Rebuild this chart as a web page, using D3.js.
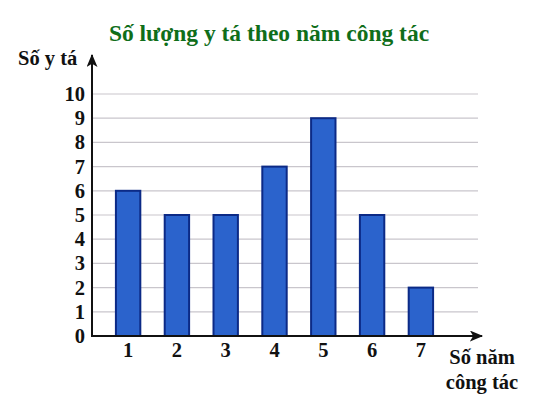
<!DOCTYPE html>
<html>
<head>
<meta charset="utf-8">
<script src="https://cdn.jsdelivr.net/npm/d3@7"></script>
<style>
  body { margin: 0; background: #fff; }
  text { font-family: "Liberation Serif", "DejaVu Serif", serif; }
</style>
</head>
<body>
<script>
// data
let years = ["1", "2", "3", "4", "5", "6", "7"];
let nurses = [6, 5, 5, 7, 9, 5, 2];
let yTicks = [0, 1, 2, 3, 4, 5, 6, 7, 8, 9, 10];

init();

function init() {
  let svg = d3.select("body")
              .append("svg")
              .attr("width", 547)
              .attr("height", 401);

  let x0 = 92, y0 = 336, gridEnd = 478;

  let x = d3.scaleBand()
            .domain(years)
            .range([x0, 457])
            .paddingInner(0.5)
            .paddingOuter(0.49);

  let y = d3.scaleLinear().domain([0, 10]).range([y0, 94]);

  // title
  svg.append("text")
     .attr("x", 269)
     .attr("y", 41)
     .attr("text-anchor", "middle")
     .attr("font-size", 23.5)
     .attr("font-weight", "bold")
     .attr("fill", "#0f6e1a")
     .text("Số lượng y tá theo năm công tác");

  // gridlines
  svg.append("g")
     .selectAll("line")
     .data(yTicks.filter(d => d > 0))
     .enter()
     .append("line")
     .attr("x1", x0)
     .attr("x2", gridEnd)
     .attr("y1", d => y(d))
     .attr("y2", d => y(d))
     .attr("stroke", "#c9c6cc")
     .attr("stroke-width", 1.2);

  // y tick labels
  svg.append("g")
     .selectAll("text")
     .data(yTicks)
     .enter()
     .append("text")
     .attr("x", 85)
     .attr("y", d => y(d) + 7)
     .attr("text-anchor", "end")
     .attr("font-size", 20.5)
     .attr("font-weight", "bold")
     .attr("fill", "#111")
     .text(d => d);

  // bars
  svg.append("g")
     .selectAll("rect")
     .data(nurses)
     .enter()
     .append("rect")
     .attr("x", (d, i) => x(years[i]))
     .attr("y", d => y(d))
     .attr("width", x.bandwidth())
     .attr("height", d => y0 - y(d))
     .attr("fill", "#2b63cc")
     .attr("stroke", "#0c2a86")
     .attr("stroke-width", 2);

  // x tick labels
  svg.append("g")
     .selectAll("text")
     .data(years)
     .enter()
     .append("text")
     .attr("x", d => x(d) + x.bandwidth() / 2)
     .attr("y", 357)
     .attr("text-anchor", "middle")
     .attr("font-size", 20.5)
     .attr("font-weight", "bold")
     .attr("fill", "#111")
     .text(d => d);

  // axes with arrows
  svg.append("defs")
     .append("marker")
     .attr("id", "arrow")
     .attr("viewBox", "0 0 12 10")
     .attr("refX", 11)
     .attr("refY", 5)
     .attr("markerWidth", 14)
     .attr("markerHeight", 11)
     .attr("markerUnits", "userSpaceOnUse")
     .attr("orient", "auto")
     .append("path")
     .attr("d", "M0,0 L12,5 L0,10 L3,5 Z")
     .attr("fill", "#111");

  svg.append("line")
     .attr("x1", x0).attr("y1", y0 + 1)
     .attr("x2", x0).attr("y2", 55)
     .attr("stroke", "#111")
     .attr("stroke-width", 2)
     .attr("marker-end", "url(#arrow)");

  svg.append("line")
     .attr("x1", x0 - 1).attr("y1", y0)
     .attr("x2", 482).attr("y2", y0)
     .attr("stroke", "#111")
     .attr("stroke-width", 2)
     .attr("marker-end", "url(#arrow)");

  // axis titles
  svg.append("text")
     .attr("x", 18)
     .attr("y", 65)
     .attr("font-size", 20.5)
     .attr("font-weight", "bold")
     .attr("fill", "#111")
     .text("Số y tá");

  svg.append("text")
     .attr("x", 482)
     .attr("y", 364)
     .attr("text-anchor", "middle")
     .attr("font-size", 20.5)
     .attr("font-weight", "bold")
     .attr("fill", "#111")
     .text("Số năm");

  svg.append("text")
     .attr("x", 482)
     .attr("y", 389)
     .attr("text-anchor", "middle")
     .attr("font-size", 20.5)
     .attr("font-weight", "bold")
     .attr("fill", "#111")
     .text("công tác");
}
</script>
</body>
</html>
